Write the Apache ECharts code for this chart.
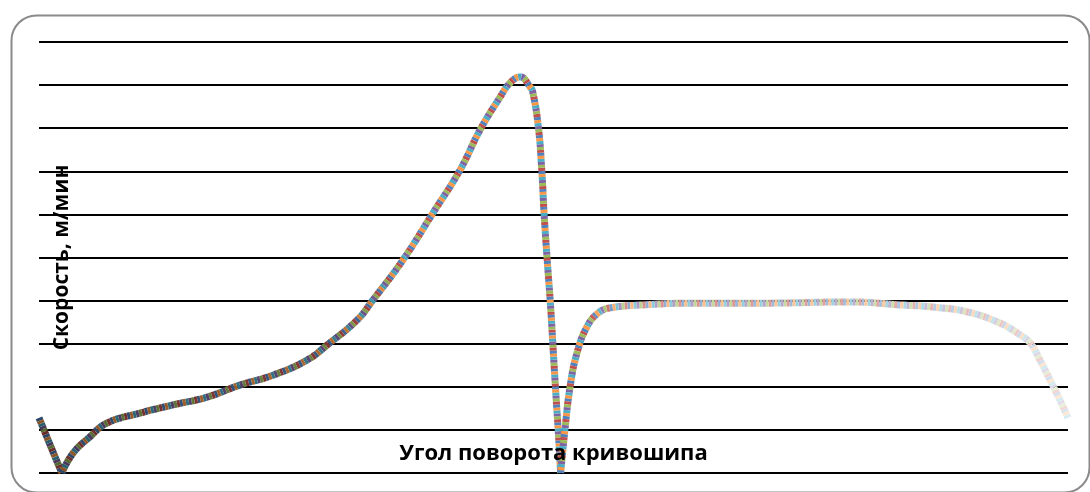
<!DOCTYPE html>
<html>
<head>
<meta charset="utf-8">
<script src="https://cdn.jsdelivr.net/npm/echarts@6/dist/echarts.min.js"></script>
<style>
html,body{margin:0;padding:0;background:#fff;}
#c{width:1090px;height:492px;}
</style>
</head>
<body>
<div id="c"></div>
<script>
// ---- data ----
const angle = [0, 3.9, 8.0, 11.9, 17.8, 23.8, 35.3, 46.9, 58.8, 70.3, 81.9, 93.8, 100.8, 111.3, 116.8, 127.3, 137.8, 147.3, 154.3, 161.3, 164.8, 168.3, 171.8, 172.8, 174.7, 175.9, 176.7, 177.8, 179.0, 179.9, 180.8, 181.7, 182.5, 184.0, 185.8, 188.2, 191.7, 195.6, 199.8, 211.3, 228.8, 252.2, 283.7, 301.2, 312.8, 324.7, 336.2, 342.2, 346.7, 350.2, 353.7, 357.2, 360];
const speed = [1.28, 0.65, 0, 0.46, 0.84, 1.16, 1.39, 1.58, 1.76, 2.04, 2.27, 2.62, 2.97, 3.55, 4.01, 4.94, 6.03, 7.03, 7.96, 8.72, 9.05, 9.19, 8.96, 8.82, 8.03, 7.03, 6.03, 4.94, 3.85, 2.85, 1.86, 0.93, 0, 1.0, 2.0, 2.78, 3.39, 3.71, 3.83, 3.90, 3.94, 3.94, 3.97, 3.90, 3.85, 3.74, 3.48, 3.25, 3.02, 2.62, 2.16, 1.69, 1.28];
const xTitle = 'Угол поворота кривошипа';
const yTitle = 'Скорость, м/мин';

// ---- style ----
const palette = ['#4F81BD', '#C0504D', '#9BBB59', '#8064A2', '#4BACC6', '#F79646'];
function hex2rgb(h){return [parseInt(h.substr(1,2),16),parseInt(h.substr(3,2),16),parseInt(h.substr(5,2),16)];}
function shade(h,f){const c=hex2rgb(h);return 'rgb('+c.map(v=>Math.round(v*f)).join(',')+')';}
function tint(h,f){const c=hex2rgb(h);return 'rgb('+c.map(v=>Math.round(v+(255-v)*f)).join(',')+')';}
// gradient in plot pixel space so every piece shares the same colour ramp
function grad(h){
  return {type:'linear',x:39,y:0,x2:1068,y2:0,global:true,colorStops:[
    {offset:0,color:shade(h,0.55)},
    {offset:0.28,color:shade(h,0.7)},
    {offset:0.36,color:h},
    {offset:0.53,color:h},
    {offset:0.57,color:tint(h,0.35)},
    {offset:0.82,color:tint(h,0.5)},
    {offset:1,color:tint(h,0.78)}
  ]};
}
const pts = angle.map((a,i)=>[a, speed[i]]);
// split at the two zero-speed cusps so they stay sharp
const cuts = [];
speed.forEach((v,i)=>{ if(v===0) cuts.push(i); });
const pieces = [];
let s = 0;
cuts.forEach(c=>{ pieces.push(pts.slice(s, c+1)); s = c; });
pieces.push(pts.slice(s));

const seg = 3, period = seg*palette.length;
const series = [];
pieces.forEach(p=>{
  palette.forEach((col,k)=>{
    series.push({
      type:'line', data:p, showSymbol:false, smooth:0.45, silent:true, z:2,
      lineStyle:{width:7, color:grad(col), type:[seg, period-seg], dashOffset:k*seg, cap:'butt', join:'round'}
    });
  });
});

const chart = echarts.init(document.getElementById('c'));
chart.setOption({
  animation:false,
  backgroundColor:'#fff',
  grid:{left:39, right:22, top:42, bottom:19},
  xAxis:{type:'value', min:0, max:360, z:10,
    axisLine:{show:false}, axisTick:{show:false}, axisLabel:{show:false}, splitLine:{show:false},
    name:xTitle, nameLocation:'middle', nameGap:-30,
    nameTextStyle:{fontFamily:'Open Sans', fontWeight:'bold', fontSize:22, color:'#000'}
  },
  yAxis:{type:'value', min:0, max:10, interval:1,
    axisLine:{show:false}, axisTick:{show:false}, axisLabel:{show:false},
    splitLine:{show:true, lineStyle:{color:'#000', width:2}},
    name:yTitle, nameLocation:'middle', nameGap:-34, nameRotate:90,
    nameTextStyle:{fontFamily:'Open Sans', fontWeight:'bold', fontSize:21, color:'#000'}
  },
  graphic:[{type:'rect', left:9, top:13, shape:{width:1078, height:477, r:25},
    style:{fill:'none', stroke:'#8a8a8a', lineWidth:2}, silent:true, z:-1}],
  series:series
});
</script>
</body>
</html>
